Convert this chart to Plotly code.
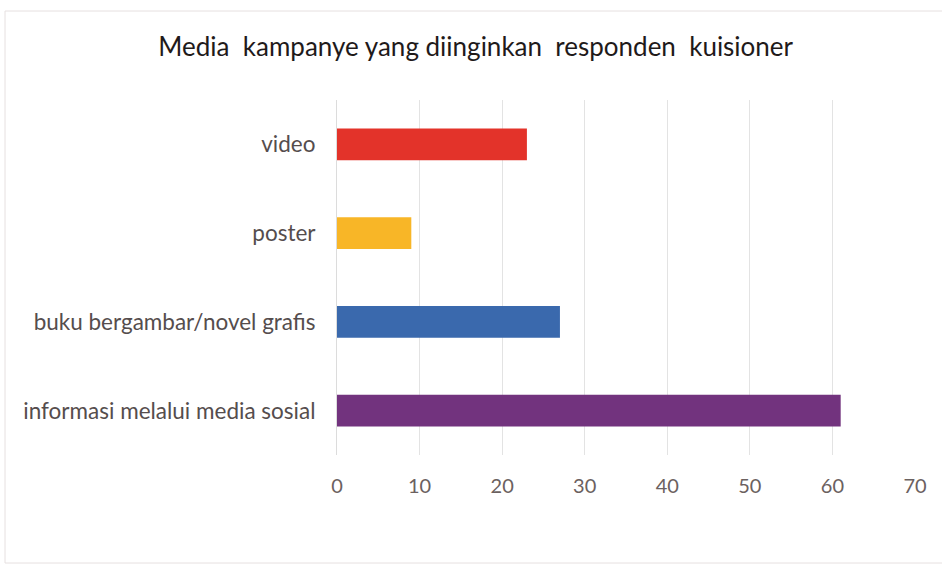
import plotly.graph_objects as go

# Survey results: preferred campaign media (number of respondents)
categories = [
    "informasi melalui media sosial",
    "buku bergambar/novel grafis",
    "poster",
    "video",
]
values = [61, 27, 9, 23]
bar_colors = ["#72337e", "#3a69ad", "#f8b627", "#e3332a"]
x_ticks = [0, 10, 20, 30, 40, 50, 60, 70]

title_text = "Media kampanye yang diinginkan responden kuisioner"

fig = go.Figure(
    go.Bar(
        x=values,
        y=categories,
        orientation="h",
        marker=dict(color=bar_colors, line=dict(width=0)),
        width=0.36,
        hoverinfo="x+y",
    )
)

L, R, T, B = 337, 27, 100, 114
PW, PH = 942 - L - R, 569 - T - B

# wider word gaps in the title, as in the original slide layout
title_html = (
    title_text.replace("Media ", "Media&nbsp;&nbsp;")
    .replace("diinginkan ", "diinginkan&nbsp;&nbsp;")
    .replace("responden ", "responden&nbsp;&nbsp;")
)

fig.update_layout(
    width=942,
    height=569,
    paper_bgcolor="white",
    plot_bgcolor="white",
    margin=dict(l=L, r=R, t=T, b=B),
    showlegend=False,
    title=dict(
        text=title_html,
        x=0.505,
        xanchor="center",
        y=0.917,
        yanchor="middle",
        font=dict(family="Lato", size=26, color="#1f1a1a"),
    ),
    xaxis=dict(
        range=[0, 70],
        tickvals=x_ticks,
        showgrid=True,
        gridcolor="#e3e3e3",
        gridwidth=1,
        zeroline=False,
        showline=False,
        ticks="",
        tickfont=dict(family="Lato", size=20, color="#6b6160"),
        ticklabelstandoff=17,
        fixedrange=True,
    ),
    yaxis=dict(
        categoryorder="array",
        categoryarray=categories,
        range=[-0.5, 3.5],
        showgrid=False,
        zeroline=False,
        showline=True,
        linecolor="#dcdcdc",
        linewidth=1,
        ticks="",
        tickfont=dict(family="Lato", size=22.5, color="#554d4d"),
        ticklabelstandoff=16,
        fixedrange=True,
    ),
    shapes=[
        dict(
            type="rect",
            xref="paper",
            yref="paper",
            x0=(5 - L) / PW,
            x1=1 + (R + 5) / PW,
            y0=-(B - 6) / PH,
            y1=1 + (T - 11) / PH,
            line=dict(color="#e6e0e0", width=1),
            fillcolor="rgba(0,0,0,0)",
            layer="below",
        )
    ],
)

fig.write_html("out.html")
